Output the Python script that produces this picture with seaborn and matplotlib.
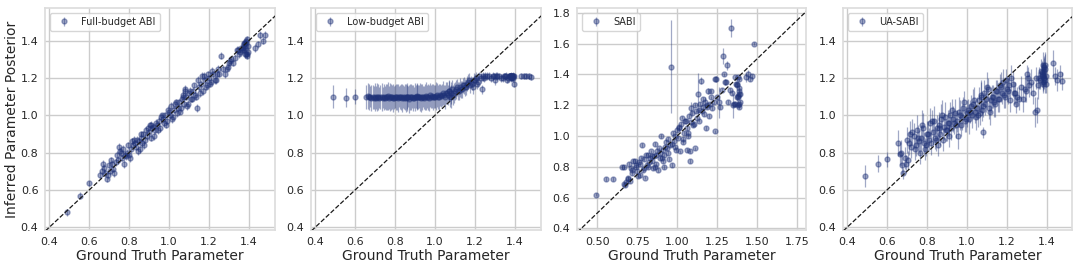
import numpy as np
import pandas as pd
import matplotlib
matplotlib.use("Agg")
import matplotlib.pyplot as plt
import seaborn as sns

# ground truth parameter values (shared by all four methods), two batches
truth_a = [
    0.49, 0.555, 0.60, 0.655, 0.665, 0.675, 0.68, 0.69, 0.70, 0.705,
    0.715, 0.72, 0.735, 0.745, 0.75, 0.76, 0.765, 0.77, 0.78, 0.785,
    0.79, 0.80, 0.81, 0.815, 0.82, 0.83, 0.835, 0.84, 0.85, 0.855,
    0.86, 0.865, 0.87, 0.88, 0.885, 0.89, 0.90, 0.905, 0.91, 0.915,
    0.92, 0.93, 0.935, 0.94, 0.95, 0.955, 0.96, 0.97, 0.975, 0.98,
    0.99, 1.00, 1.005, 1.01, 1.02, 1.025, 1.03, 1.04, 1.045, 1.05,
    1.06, 1.065, 1.07, 1.075, 1.08, 1.085, 1.09, 1.10, 1.11, 1.12,
    1.13, 1.14, 1.15, 1.16, 1.17, 1.175, 1.18, 1.19, 1.20, 1.21,
    1.22, 1.235, 1.245, 1.26, 1.29, 1.30, 1.31, 1.34, 1.35, 1.365,
    1.375, 1.38, 1.385, 1.39, 1.395, 1.43, 1.445, 1.455, 1.47, 1.48,
]
truth_b = [
    0.67, 0.695, 0.71, 0.725, 0.74, 0.755, 0.775, 0.795, 0.805, 0.825,
    0.845, 0.86, 0.875, 0.895, 0.91, 0.925, 0.945, 0.965, 0.985, 0.995,
    1.015, 1.035, 1.055, 1.07, 1.08, 1.095, 1.105, 1.115, 1.125, 1.135,
    1.145, 1.155, 1.165, 1.185, 1.195, 1.205, 1.215, 1.23, 1.24, 1.25,
    1.27, 1.28, 1.295, 1.305, 1.32, 1.33, 1.345, 1.355, 1.37, 1.38,
    1.385, 1.39, 1.375, 1.38, 1.39, 1.36, 1.385, 1.395, 1.38, 1.375,
]

full_mean_a = [
    0.48, 0.57, 0.635, 0.68, 0.70, 0.715, 0.69, 0.66, 0.735, 0.70,
    0.74, 0.71, 0.75, 0.76, 0.83, 0.80, 0.77, 0.82, 0.79, 0.78,
    0.80, 0.79, 0.82, 0.86, 0.84, 0.85, 0.83, 0.87, 0.86, 0.82,
    0.88, 0.85, 0.90, 0.87, 0.92, 0.89, 0.91, 0.95, 0.88, 0.93,
    0.94, 0.92, 0.96, 0.95, 0.97, 0.93, 0.99, 0.98, 0.96, 1.00,
    0.97, 1.02, 1.00, 1.05, 0.99, 1.03, 1.06, 1.01, 1.04, 1.07,
    1.04, 1.09, 1.11, 1.06, 1.13, 1.10, 1.05, 1.12, 1.09, 1.13,
    1.11, 1.04, 1.15, 1.17, 1.13, 1.21, 1.19, 1.16, 1.20, 1.18,
    1.22, 1.19, 1.25, 1.32, 1.25, 1.28, 1.30, 1.35, 1.33, 1.35,
    1.39, 1.36, 1.40, 1.33, 1.37, 1.36, 1.38, 1.43, 1.40, 1.43,
]
full_mean_b = [
    0.74, 0.68, 0.76, 0.69, 0.79, 0.81, 0.74, 0.84, 0.77, 0.87,
    0.81, 0.90, 0.84, 0.93, 0.95, 0.89, 0.92, 1.00, 0.95, 1.03,
    0.98, 1.07, 1.02, 1.10, 1.14, 1.06, 1.13, 1.09, 1.16, 1.10,
    1.19, 1.12, 1.21, 1.15, 1.22, 1.17, 1.24, 1.19, 1.22, 1.22,
    1.25, 1.22, 1.26, 1.29, 1.28, 1.31, 1.35, 1.34, 1.36, 1.39,
    1.33, 1.41, 1.35, 1.37, 1.32, 1.36, 1.39, 1.34, 1.33, 1.38,
]
full_err_a = [
    0.02, 0.02, 0.015, 0.02, 0.02, 0.025, 0.02, 0.015, 0.02, 0.02,
    0.02, 0.015, 0.02, 0.02, 0.02, 0.02, 0.015, 0.02, 0.02, 0.02,
    0.02, 0.015, 0.02, 0.02, 0.02, 0.02, 0.015, 0.02, 0.02, 0.02,
    0.02, 0.02, 0.015, 0.02, 0.02, 0.02, 0.02, 0.015, 0.02, 0.02,
    0.02, 0.02, 0.02, 0.015, 0.02, 0.02, 0.02, 0.02, 0.015, 0.02,
    0.02, 0.02, 0.02, 0.02, 0.015, 0.02, 0.02, 0.02, 0.02, 0.02,
    0.02, 0.015, 0.02, 0.02, 0.02, 0.02, 0.02, 0.015, 0.02, 0.02,
    0.02, 0.02, 0.02, 0.015, 0.02, 0.02, 0.02, 0.02, 0.015, 0.02,
    0.02, 0.02, 0.02, 0.02, 0.015, 0.02, 0.02, 0.02, 0.02, 0.02,
    0.02, 0.025, 0.02, 0.02, 0.015, 0.02, 0.02, 0.02, 0.02, 0.02,
]
full_err_b = [
    0.02, 0.02, 0.015, 0.02, 0.02, 0.02, 0.02, 0.015, 0.02, 0.02,
    0.02, 0.015, 0.02, 0.02, 0.02, 0.02, 0.02, 0.015, 0.02, 0.02,
    0.02, 0.02, 0.015, 0.02, 0.02, 0.02, 0.02, 0.02, 0.015, 0.02,
    0.02, 0.02, 0.02, 0.015, 0.02, 0.02, 0.02, 0.02, 0.02, 0.015,
    0.02, 0.02, 0.02, 0.02, 0.015, 0.02, 0.02, 0.02, 0.02, 0.02,
    0.02, 0.015, 0.02, 0.02, 0.02, 0.02, 0.015, 0.02, 0.02, 0.02,
]

low_mean_a = [
    1.10, 1.095, 1.10, 1.10, 1.105, 1.10, 1.095, 1.10, 1.10, 1.095,
    1.10, 1.095, 1.10, 1.10, 1.095, 1.10, 1.105, 1.095, 1.10, 1.10,
    1.095, 1.10, 1.10, 1.095, 1.10, 1.10, 1.095, 1.10, 1.10, 1.095,
    1.10, 1.10, 1.09, 1.10, 1.10, 1.095, 1.10, 1.10, 1.105, 1.10,
    1.10, 1.095, 1.10, 1.10, 1.10, 1.105, 1.10, 1.095, 1.11, 1.10,
    1.10, 1.10, 1.105, 1.11, 1.10, 1.11, 1.105, 1.12, 1.11, 1.10,
    1.12, 1.11, 1.13, 1.10, 1.12, 1.14, 1.11, 1.13, 1.15, 1.13,
    1.14, 1.16, 1.15, 1.17, 1.19, 1.16, 1.18, 1.15, 1.19, 1.17,
    1.21, 1.14, 1.20, 1.21, 1.21, 1.19, 1.21, 1.20, 1.21, 1.20,
    1.21, 1.21, 1.20, 1.21, 1.17, 1.21, 1.21, 1.21, 1.21, 1.205,
]
low_mean_b = [
    1.10, 1.095, 1.10, 1.10, 1.095, 1.10, 1.10, 1.095, 1.10, 1.10,
    1.095, 1.10, 1.10, 1.095, 1.10, 1.10, 1.095, 1.10, 1.105, 1.10,
    1.10, 1.11, 1.12, 1.13, 1.10, 1.12, 1.14, 1.13, 1.15, 1.14,
    1.16, 1.15, 1.18, 1.17, 1.19, 1.20, 1.18, 1.20, 1.21, 1.21,
    1.21, 1.20, 1.21, 1.21, 1.21, 1.20, 1.21, 1.21, 1.21, 1.21,
    1.21, 1.20, 1.21, 1.205, 1.21, 1.19, 1.21, 1.21, 1.20, 1.21,
]
low_err_a = [
    0.06, 0.05, 0.04, 0.065, 0.07, 0.055, 0.07, 0.065, 0.075, 0.06,
    0.07, 0.055, 0.075, 0.07, 0.06, 0.07, 0.075, 0.06, 0.07, 0.065,
    0.075, 0.06, 0.07, 0.075, 0.055, 0.07, 0.075, 0.06, 0.07, 0.075,
    0.065, 0.055, 0.075, 0.07, 0.06, 0.07, 0.075, 0.06, 0.07, 0.065,
    0.06, 0.075, 0.07, 0.055, 0.07, 0.075, 0.06, 0.07, 0.065, 0.06,
    0.07, 0.06, 0.075, 0.065, 0.07, 0.06, 0.06, 0.065, 0.055, 0.065,
    0.06, 0.055, 0.06, 0.055, 0.06, 0.05, 0.055, 0.05, 0.045, 0.05,
    0.045, 0.04, 0.045, 0.04, 0.035, 0.04, 0.03, 0.035, 0.03, 0.03,
    0.02, 0.025, 0.02, 0.02, 0.02, 0.025, 0.02, 0.02, 0.015, 0.02,
    0.015, 0.02, 0.015, 0.015, 0.02, 0.015, 0.015, 0.015, 0.015, 0.015,
]
low_err_b = [
    0.07, 0.06, 0.075, 0.065, 0.055, 0.07, 0.075, 0.06, 0.07, 0.065,
    0.06, 0.075, 0.07, 0.055, 0.07, 0.075, 0.06, 0.07, 0.065, 0.06,
    0.065, 0.06, 0.06, 0.055, 0.06, 0.055, 0.05, 0.05, 0.05, 0.045,
    0.045, 0.04, 0.04, 0.035, 0.035, 0.03, 0.03, 0.025, 0.025, 0.02,
    0.02, 0.02, 0.015, 0.02, 0.015, 0.02, 0.015, 0.02, 0.015, 0.015,
    0.015, 0.02, 0.015, 0.015, 0.02, 0.015, 0.015, 0.015, 0.02, 0.015,
]

sabi_mean_a = [
    0.62, 0.72, 0.72, 0.80, 0.69, 0.68, 0.70, 0.73, 0.82, 0.71,
    0.78, 0.76, 0.84, 0.80, 0.77, 0.83, 0.75, 0.82, 0.94, 0.78,
    0.85, 0.73, 0.81, 0.88, 0.80, 0.86, 0.90, 0.84, 0.79, 0.87,
    0.95, 0.82, 0.88, 0.78, 0.92, 0.89, 1.00, 0.86, 0.91, 0.80,
    0.88, 0.96, 0.92, 0.98, 0.85, 0.94, 1.45, 0.81, 1.02, 0.97,
    0.93, 1.04, 0.99, 1.06, 0.90, 1.08, 1.12, 0.96, 1.02, 1.10,
    1.05, 0.91, 1.00, 1.13, 0.84, 1.09, 1.18, 1.07, 0.92, 1.16,
    1.27, 1.10, 1.36, 1.19, 1.14, 1.22, 1.05, 1.20, 1.13, 1.29,
    1.18, 1.03, 1.37, 1.22, 1.52, 1.35, 1.46, 1.70, 1.20, 1.21,
    1.25, 1.20, 1.37, 1.29, 1.27, 1.38, 1.40, 1.37, 1.39, 1.60,
]
sabi_mean_b = [
    0.80, 0.72, 0.79, 0.84, 0.81, 0.74, 0.86, 0.79, 0.88, 0.83,
    0.87, 0.80, 0.90, 0.86, 0.84, 0.93, 0.89, 0.95, 1.00, 0.91,
    1.05, 0.98, 1.10, 1.02, 0.90, 1.15, 1.08, 1.20, 1.12, 1.17,
    1.21, 1.16, 1.24, 1.19, 1.29, 1.21, 1.25, 1.22, 1.37, 1.25,
    1.19, 1.30, 1.40, 1.35, 1.22, 1.30, 1.28, 1.21, 1.34, 1.38,
    1.21, 1.27, 1.33, 1.25, 1.19, 1.38, 1.31, 1.22, 1.26, 1.34,
]
sabi_err_a = [
    0.012, 0.012, 0.012, 0.012, 0.012, 0.012, 0.012, 0.012, 0.012, 0.012,
    0.012, 0.012, 0.012, 0.012, 0.012, 0.012, 0.012, 0.012, 0.012, 0.012,
    0.012, 0.012, 0.012, 0.012, 0.012, 0.012, 0.012, 0.012, 0.012, 0.012,
    0.012, 0.012, 0.012, 0.012, 0.012, 0.012, 0.012, 0.012, 0.012, 0.012,
    0.012, 0.012, 0.012, 0.012, 0.012, 0.012, 0.30, 0.012, 0.012, 0.012,
    0.012, 0.012, 0.012, 0.012, 0.012, 0.012, 0.012, 0.012, 0.012, 0.012,
    0.012, 0.012, 0.012, 0.012, 0.012, 0.012, 0.04, 0.012, 0.012, 0.012,
    0.14, 0.012, 0.02, 0.012, 0.012, 0.03, 0.012, 0.012, 0.012, 0.012,
    0.012, 0.012, 0.02, 0.10, 0.05, 0.02, 0.03, 0.06, 0.08, 0.012,
    0.02, 0.012, 0.012, 0.02, 0.012, 0.03, 0.03, 0.012, 0.012, 0.012,
]
sabi_err_b = [
    0.012, 0.012, 0.012, 0.012, 0.012, 0.012, 0.012, 0.012, 0.012, 0.012,
    0.012, 0.012, 0.012, 0.012, 0.012, 0.012, 0.012, 0.012, 0.012, 0.012,
    0.012, 0.012, 0.012, 0.012, 0.012, 0.012, 0.012, 0.012, 0.012, 0.012,
    0.012, 0.012, 0.012, 0.012, 0.02, 0.012, 0.012, 0.012, 0.012, 0.012,
    0.012, 0.012, 0.012, 0.012, 0.012, 0.012, 0.012, 0.012, 0.012, 0.012,
    0.012, 0.012, 0.012, 0.012, 0.012, 0.012, 0.012, 0.012, 0.012, 0.012,
]

ua_mean_a = [
    0.675, 0.74, 0.765, 0.85, 0.795, 0.735, 0.69, 0.77, 0.87, 0.76,
    0.90, 0.83, 0.89, 0.84, 0.92, 0.86, 0.80, 0.88, 0.93, 0.85,
    0.82, 0.90, 0.87, 0.96, 0.85, 0.91, 0.97, 0.88, 0.93, 0.84,
    0.95, 0.90, 0.98, 0.87, 0.94, 0.99, 0.92, 0.96, 0.89, 1.00,
    0.93, 0.98, 0.96, 1.01, 0.97, 0.89, 1.02, 0.95, 0.99, 1.04,
    0.97, 1.01, 1.03, 0.98, 1.05, 1.00, 1.06, 1.02, 0.99, 1.04,
    1.08, 1.01, 1.10, 1.03, 0.91, 1.12, 1.06, 1.15, 1.04, 1.08,
    1.10, 1.06, 1.13, 1.09, 1.15, 1.12, 1.18, 1.10, 1.14, 1.16,
    1.20, 1.12, 1.06, 1.09, 1.14, 1.22, 1.16, 1.02, 1.03, 1.19,
    1.21, 1.27, 1.20, 1.25, 1.17, 1.28, 1.21, 1.19, 1.22, 1.185,
]
ua_mean_b = [
    0.80, 0.74, 0.85, 0.91, 0.82, 0.88, 0.95, 0.84, 0.90, 0.97,
    0.87, 0.93, 1.00, 0.92, 0.96, 1.03, 0.95, 1.00, 1.07, 0.98,
    1.02, 1.08, 1.00, 1.11, 1.05, 1.09, 1.14, 1.02, 1.10, 1.07,
    1.13, 1.09, 1.16, 1.11, 1.19, 1.13, 1.08, 1.17, 1.12, 1.10,
    1.15, 1.09, 1.13, 1.20, 1.18, 1.12, 1.20, 1.16, 1.24, 1.21,
    1.26, 1.19, 1.23, 1.18, 1.27, 1.20, 1.24, 1.21, 1.17, 1.22,
]
ua_err_a = [
    0.06, 0.045, 0.04, 0.07, 0.06, 0.05, 0.03, 0.06, 0.07, 0.05,
    0.07, 0.06, 0.07, 0.06, 0.08, 0.06, 0.06, 0.07, 0.08, 0.06,
    0.06, 0.07, 0.06, 0.08, 0.06, 0.07, 0.08, 0.06, 0.07, 0.06,
    0.07, 0.06, 0.08, 0.06, 0.07, 0.08, 0.06, 0.07, 0.06, 0.07,
    0.06, 0.07, 0.06, 0.08, 0.06, 0.07, 0.08, 0.06, 0.07, 0.06,
    0.06, 0.07, 0.06, 0.08, 0.06, 0.07, 0.08, 0.06, 0.07, 0.06,
    0.07, 0.06, 0.08, 0.06, 0.03, 0.07, 0.06, 0.08, 0.06, 0.07,
    0.06, 0.07, 0.06, 0.07, 0.08, 0.06, 0.07, 0.06, 0.07, 0.06,
    0.07, 0.06, 0.05, 0.06, 0.07, 0.05, 0.06, 0.08, 0.07, 0.05,
    0.06, 0.07, 0.06, 0.08, 0.05, 0.07, 0.05, 0.06, 0.05, 0.05,
]
ua_err_b = [
    0.07, 0.05, 0.06, 0.07, 0.06, 0.07, 0.08, 0.06, 0.07, 0.06,
    0.06, 0.07, 0.08, 0.06, 0.07, 0.06, 0.07, 0.08, 0.06, 0.07,
    0.06, 0.07, 0.06, 0.08, 0.06, 0.07, 0.06, 0.07, 0.06, 0.08,
    0.06, 0.07, 0.06, 0.07, 0.06, 0.07, 0.06, 0.07, 0.06, 0.05,
    0.06, 0.07, 0.06, 0.06, 0.07, 0.06, 0.06, 0.07, 0.06, 0.07,
    0.06, 0.07, 0.06, 0.05, 0.07, 0.06, 0.07, 0.06, 0.05, 0.06,
]

labels = ["Full-budget ABI", "Low-budget ABI", "SABI", "UA-SABI"]
truth = truth_a + truth_b
means = [full_mean_a + full_mean_b, low_mean_a + low_mean_b,
         sabi_mean_a + sabi_mean_b, ua_mean_a + ua_mean_b]
errs = [full_err_a + full_err_b, low_err_a + low_err_b,
        sabi_err_a + sabi_err_b, ua_err_a + ua_err_b]

sns.set_theme(style="whitegrid")
plt.rcParams["font.family"] = ["DejaVu Sans"]

fig, axes = plt.subplots(1, 4, figsize=(10.8, 2.7), dpi=100)
fig.subplots_adjust(left=0.042, right=0.993, bottom=0.148, top=0.97, wspace=0.16)

navy = "#1f3278"
for i, ax in enumerate(axes):
    df = pd.DataFrame({"truth": truth, "mean": means[i], "err": errs[i]})
    ax.errorbar(df["truth"], df["mean"], yerr=df["err"], fmt="o", color=navy,
                ecolor=navy, alpha=0.42, markersize=3.6, elinewidth=0.9,
                label=labels[i], zorder=2)
    if i == 2:
        xlim, ylim = (0.375, 1.81), (0.39, 1.83)
        ax.set_xticks([0.50, 0.75, 1.00, 1.25, 1.50, 1.75])
        ax.set_xticklabels(["0.50", "0.75", "1.00", "1.25", "1.50", "1.75"])
        ax.set_yticks([0.4, 0.6, 0.8, 1.0, 1.2, 1.4, 1.6, 1.8])
    else:
        xlim, ylim = (0.38, 1.53), (0.385, 1.575)
        ax.set_xticks([0.4, 0.6, 0.8, 1.0, 1.2, 1.4])
        ax.set_yticks([0.4, 0.6, 0.8, 1.0, 1.2, 1.4])
    lo, hi = min(xlim[0], ylim[0]), max(xlim[1], ylim[1])
    ax.plot([lo, hi], [lo, hi], "k--", lw=0.9, zorder=3)
    ax.set_xlim(xlim)
    ax.set_ylim(ylim)
    ax.tick_params(axis="x", labelsize=8, length=0, pad=5)
    ax.tick_params(axis="y", labelsize=8, length=0, pad=5)
    ax.set_xlabel("Ground Truth Parameter", fontsize=10, labelpad=1.5)
    ax.legend(loc="upper left", fontsize=7, frameon=True)
    for s in ax.spines.values():
        s.set_color("#dddddd")

axes[0].set_ylabel("Inferred Parameter Posterior", fontsize=10, labelpad=1)

plt.savefig("out.png", dpi=100)
